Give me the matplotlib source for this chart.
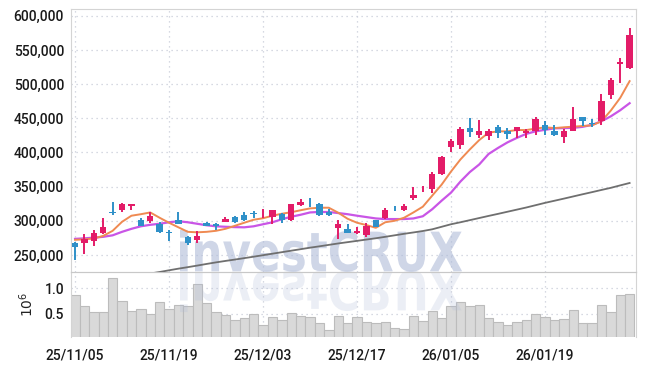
import matplotlib
matplotlib.use('Agg')
import matplotlib.pyplot as plt
from matplotlib.textpath import TextPath
from matplotlib.patches import PathPatch
from matplotlib.font_manager import FontProperties
from matplotlib import transforms

# trading days (yy/mm/dd)
dates = ['25/11/05', '25/11/06', '25/11/07', '25/11/10', '25/11/11', '25/11/12', '25/11/13', '25/11/14',
         '25/11/17', '25/11/18', '25/11/19', '25/11/20', '25/11/21', '25/11/24', '25/11/25', '25/11/26',
         '25/11/27', '25/11/28', '25/12/01', '25/12/02', '25/12/03', '25/12/04', '25/12/05', '25/12/08',
         '25/12/09', '25/12/10', '25/12/11', '25/12/12', '25/12/15', '25/12/16', '25/12/17', '25/12/18',
         '25/12/19', '25/12/22', '25/12/23', '25/12/24', '25/12/26', '25/12/29', '25/12/30', '26/01/02',
         '26/01/05', '26/01/06', '26/01/07', '26/01/08', '26/01/09', '26/01/12', '26/01/13', '26/01/14',
         '26/01/15', '26/01/16', '26/01/19', '26/01/20', '26/01/21', '26/01/22', '26/01/23', '26/01/26',
         '26/01/27', '26/01/28', '26/01/29', '26/01/30']

opens = [268100, 267200, 271000, 281900, 313000, 315100, 322100, 300400, 299500, 294600,
         283500, 301500, 276000, 272100, 296600, 295600, 298500, 305400, 308400, 310800,
         310800, 305400, 309300, 301500, 323000, 326500, 325000, 313200, 288700, 287800,
         281900, 279000, 301500, 303400, 315800, 316200, 332800, 346000, 346600, 369100,
         408400, 410300, 435800, 425000, 424000, 437800, 431900, 430900, 427900, 431900,
         440700, 430900, 423100, 431900, 452400, 443700, 445600, 483800, 529000, 524000]
highs = [268600, 280900, 286800, 303400, 326900, 326000, 325000, 303400, 312200, 298500,
         286800, 313200, 277000, 284800, 298500, 296500, 305400, 307400, 312200, 314200,
         317200, 316200, 311300, 325000, 331900, 332800, 325500, 317200, 300400, 294600,
         291600, 296600, 301500, 319100, 321000, 325000, 349600, 351500, 371000, 394600,
         419100, 436800, 450500, 447500, 434800, 440700, 435800, 437800, 433800, 452400,
         445600, 440700, 433800, 467200, 452400, 448500, 484900, 508300, 537800, 582000]
lows = [242600, 251500, 263200, 280900, 308400, 313200, 315100, 292600, 296600, 281900,
        271000, 294600, 264300, 267200, 292000, 286800, 297500, 296600, 299500, 304400,
        303400, 294600, 296600, 299500, 322100, 320100, 307400, 307400, 274000, 281900,
        280900, 276000, 291600, 302500, 314000, 314200, 329900, 342600, 340700, 367200,
        400500, 404400, 423100, 421100, 418100, 421100, 419100, 421100, 421100, 426000,
        426000, 424000, 414300, 430900, 438700, 437800, 439700, 477900, 501500, 522100]
closes = [261300, 273100, 281900, 291600, 312000, 324000, 325000, 292600, 306300, 283800,
          282500, 294600, 267200, 277900, 292600, 291700, 302500, 298500, 301500, 310000,
          311800, 315100, 301500, 324000, 326900, 325500, 308400, 308400, 294600, 281900,
          284800, 292600, 291600, 315100, 315200, 322100, 337800, 347000, 369100, 393700,
          417200, 433800, 429900, 431900, 431900, 429000, 427000, 436800, 431900, 448500,
          432800, 426000, 430900, 448500, 446500, 441600, 475000, 505400, 532800, 572100]

ma5 = [272100, 272800, 274000, 277900, 285300, 298500, 307400, 309600, 312200, 304400,
       297100, 290400, 283800, 283100, 283800, 285300, 288200, 292600, 297100, 301500,
       303700, 307400, 310300, 312500, 315400, 318100, 319100, 319100, 311800, 302900,
       297100, 293700, 289700, 297800, 300000, 304400, 312200, 320600, 336800, 352900,
       372100, 389700, 404400, 418100, 429000, 430900, 430900, 432800, 432800, 434900,
       436800, 435700, 436800, 437800, 438700, 439700, 445600, 461300, 479900, 504400]
ma20 = [273500, 274300, 275300, 276500, 278700, 283800, 288200, 291900, 294100, 295600,
        297800, 299300, 297800, 295600, 293400, 291900, 291200, 290700, 290400, 291900,
        294900, 297800, 302200, 305900, 308800, 312200, 312900, 312800, 311300, 309600,
        307400, 305400, 303400, 302500, 302500, 302500, 303400, 306600, 316900, 329400,
        341200, 357400, 371300, 382400, 397800, 406600, 414700, 421300, 427200, 430900,
        433100, 435300, 435700, 436000, 437500, 440400, 445600, 452900, 461800, 472100]
ma120 = [205900, 208100, 210300, 212500, 214700, 216900, 219100, 220900, 222800, 225000,
         227500, 229900, 232100, 234400, 236800, 239100, 241200, 243200, 245300, 247400,
         249600, 251800, 254000, 256200, 258400, 260600, 262600, 264700, 266800, 268700,
         270600, 272500, 274400, 276500, 278700, 280900, 282900, 285000, 287500, 291200,
         294900, 297800, 300900, 304000, 307100, 310100, 313200, 316300, 319400, 322800,
         326200, 329300, 332400, 335600, 338800, 341900, 345100, 348200, 351800, 355300]

# volume in millions of shares
volumes = [0.871, 0.662, 0.539, 0.539, 1.203, 0.754, 0.559, 0.598, 0.506, 0.734,
           0.598, 0.676, 0.662, 1.092, 0.721, 0.539, 0.486, 0.389, 0.421, 0.500,
           0.285, 0.441, 0.383, 0.519, 0.461, 0.441, 0.324, 0.187, 0.461, 0.330,
           0.441, 0.350, 0.317, 0.343, 0.226, 0.207, 0.461, 0.363, 0.559, 0.421,
           0.649, 0.734, 0.656, 0.676, 0.421, 0.343, 0.285, 0.343, 0.383, 0.500,
           0.441, 0.383, 0.402, 0.578, 0.324, 0.324, 0.676, 0.539, 0.871, 0.890]

tick_positions = [0, 10, 20, 30, 40, 50]
price_ticks = [250000, 300000, 350000, 400000, 450000, 500000, 550000, 600000]
volume_ticks = [0.5, 1.0]

UP = '#e31c68'
DOWN = '#2f90c8'
GRID = '#c9cdd9'
SPINE = '#d4d4d4'
FONT = ['Roboto', 'DejaVu Sans']


def style_axes(ax):
    ax.grid(True, linestyle=(0, (1, 3)), color=GRID, linewidth=0.9)
    ax.set_axisbelow(True)
    ax.tick_params(length=0, labelsize=10, colors='#1a1a1a', pad=5)
    for lbl in ax.get_xticklabels() + ax.get_yticklabels():
        lbl.set_fontweight('medium')
    for side in ['left', 'right', 'top', 'bottom']:
        ax.spines[side].set_color(SPINE)


def add_watermark(fig, ax):
    prop = FontProperties(family='DejaVu Sans', weight='bold')
    tp = TextPath((0, 0), 'investCRUX', size=1, prop=prop)
    ext = tp.get_extents()
    sx = 282 / ext.width
    sy = 54
    left, base = 180, 366 - 271
    up = transforms.Affine2D().translate(-ext.x0, 0).scale(sx, sy).translate(left, base)
    down = transforms.Affine2D().translate(-ext.x0, 0).scale(sx, -sy).translate(left, base)
    for tr, a in [(up, 0.6), (down, 0.24)]:
        patch = PathPatch(tr.transform_path(tp), facecolor='#afbbd8', edgecolor='none',
                          alpha=a, transform=transforms.IdentityTransform(), zorder=1)
        patch.set_clip_on(False)
        ax.add_artist(patch)


def plot_chart():
    plt.rcParams['font.family'] = FONT
    fig = plt.figure(figsize=(6.45, 3.66), dpi=100)
    ax_vol = fig.add_axes([71 / 645, 1 - 337 / 366, 565 / 645, 65 / 366])
    ax = fig.add_axes([71 / 645, 1 - 272 / 366, 565 / 645, 263 / 366], sharex=ax_vol)
    ax.patch.set_alpha(0)
    ax_vol.patch.set_alpha(0)

    x = list(range(len(dates)))

    # volume
    ax_vol.bar(x, volumes, width=1.0, color='#d9d9d9', edgecolor='#bcbcbc', linewidth=0.8, zorder=2)
    ax_vol.set_ylim(0.05, 1.32)
    ax_vol.set_yticks(volume_ticks)
    ax_vol.set_yticklabels(['0.5', '1.0'])
    ax_vol.set_xticks(tick_positions)
    ax_vol.set_xticklabels([dates[i] for i in tick_positions])
    style_axes(ax_vol)
    ax_vol.set_ylabel(r'$10^6$', fontsize=10, color='#222222')
    ax_vol.yaxis.set_label_coords(-0.062, 0.5)
    ax_vol.spines['bottom'].set_visible(False)
    ax_vol.tick_params(axis='x', pad=8)

    # moving averages
    ax.plot(x, ma120, color='#6f6f6f', linewidth=1.3, zorder=3)
    ax.plot(x, ma20, color='#c955e6', linewidth=1.6, zorder=3)
    ax.plot(x, ma5, color='#ef8a52', linewidth=1.4, zorder=3)

    # candles
    colors = [UP if c >= o else DOWN for o, c in zip(opens, closes)]
    ax.vlines(x, lows, highs, colors=colors, linewidth=1.4, zorder=4)
    bottoms = [min(o, c) for o, c in zip(opens, closes)]
    heights = [max(abs(c - o), 1000) for o, c in zip(opens, closes)]
    ax.bar(x, heights, bottom=bottoms, width=0.68, color=colors, linewidth=0, zorder=5)

    ax.set_ylim(225000, 610000)
    ax.set_xlim(-0.43, 59.68)
    ax.set_yticks(price_ticks)
    ax.set_yticklabels([f'{v:,}' for v in price_ticks])
    style_axes(ax)
    ax.spines['bottom'].set_color('#c8c8c8')
    ax.tick_params(axis='x', labelbottom=False)

    add_watermark(fig, ax)
    fig.savefig('out.png', dpi=100)


if __name__ == '__main__':
    plot_chart()
